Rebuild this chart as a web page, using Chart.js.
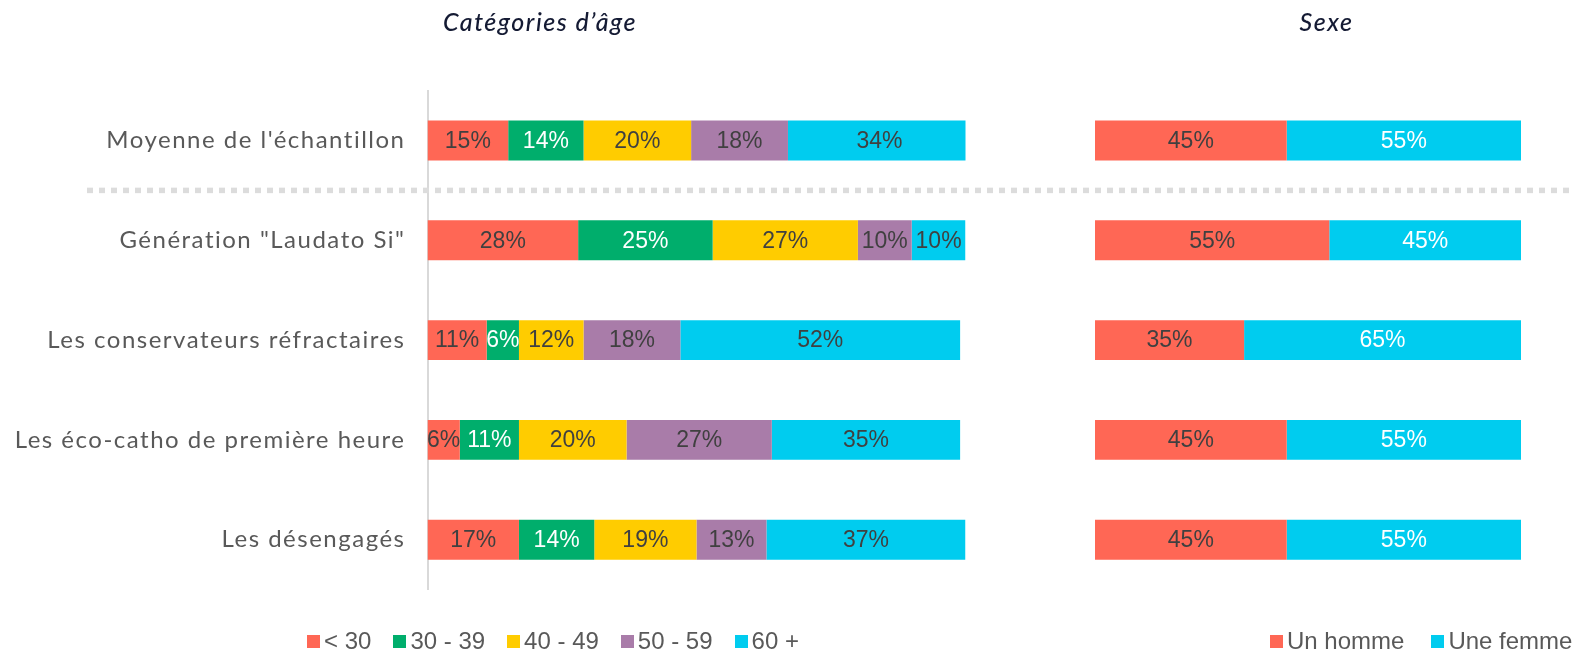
<!DOCTYPE html>
<html lang="fr">
<head>
<meta charset="utf-8">
<title>Profils : âge et sexe</title>
<script src="https://cdn.jsdelivr.net/npm/chart.js@4.4.1/dist/chart.umd.min.js"></script>
<style>
  html, body { margin: 0; padding: 0; background: #fff; }
  body { width: 1573px; height: 651px; position: relative; overflow: hidden; }
  .panel { position: absolute; top: 0; height: 651px; }
  #agePanel { left: 0; width: 1080px; }
  #sexPanel { left: 1080px; width: 493px; }
  .legend {
    position: absolute; top: 627px; display: flex; align-items: center;
    font-family: "Liberation Sans", Arial, sans-serif; font-size: 24px; color: #595959;
    white-space: nowrap;
  }
  .legend .item { display: flex; align-items: center; }
  .legend .box { width: 13px; height: 13px; margin-right: 4px; }
  #ageLegend { left: 307px; }
  #ageLegend .item { margin-right: 22px; }
  #sexLegend { left: 1270px; }
  #sexLegend .item { margin-right: 27px; }
</style>
</head>
<body>
<div class="panel" id="agePanel"><canvas id="ageChart"></canvas></div>
<div class="panel" id="sexPanel"><canvas id="sexChart"></canvas></div>
<div class="legend" id="ageLegend"></div>
<div class="legend" id="sexLegend"></div>
<script>
const segments = [
  "Moyenne de l'échantillon",
  'Génération "Laudato Si"',
  'Les conservateurs réfractaires',
  'Les éco-catho de première heure',
  'Les désengagés'
];

const ageGroups = ['< 30', '30 - 39', '40 - 49', '50 - 59', '60 +'];
const ageUnder30 = [15, 28, 11, 6, 17];
const age30to39 = [14, 25, 6, 11, 14];
const age40to49 = [20, 27, 12, 20, 19];
const age50to59 = [18, 10, 18, 27, 13];
const age60plus = [34, 10, 52, 35, 37];
const ageColors = ['#FF6755', '#00AE6C', '#FFCC00', '#A97CA9', '#00CCEF'];
const ageLabelColors = ['#404040', '#ffffff', '#404040', '#404040', '#404040'];

const sexGroups = ['Un homme', 'Une femme'];
const men = [45, 55, 35, 45, 45];
const women = [55, 45, 65, 55, 55];
const sexColors = ['#FF6755', '#00CCEF'];
const sexLabelColors = ['#404040', '#ffffff'];

const LABEL_FONT = '"Liberation Sans", Arial, sans-serif';
const TITLE_COLOR = '#141a33';

// wider tracking for titles and category names (scales + title are drawn before datasets)
const tracking = {
  id: 'tracking',
  beforeDraw(chart, args, opts) { chart.ctx.letterSpacing = opts.spacing; },
  beforeDatasetsDraw(chart) { chart.ctx.letterSpacing = '0px'; }
};

// value labels centred in each stacked segment
const barLabels = {
  id: 'barLabels',
  afterDatasetsDraw(chart, args, opts) {
    const { ctx } = chart;
    ctx.save();
    ctx.font = `23px ${LABEL_FONT}`;
    ctx.textAlign = 'center';
    ctx.textBaseline = 'middle';
    chart.data.datasets.forEach((ds, i) => {
      const meta = chart.getDatasetMeta(i);
      ctx.fillStyle = opts.colors[i];
      meta.data.forEach((bar, j) => {
        const { x, y, base } = bar.getProps(['x', 'y', 'base'], true);
        ctx.fillText(ds.data[j] + '%', (x + base) / 2, y + 1);
      });
    });
    ctx.restore();
  }
};

// dotted rule between the sample average and the segments
const separator = {
  id: 'separator',
  beforeDatasetsDraw(chart, args, opts) {
    const { ctx } = chart;
    const y = chart.scales.y;
    const py = (y.getPixelForValue(0) + y.getPixelForValue(1)) / 2;
    ctx.save();
    ctx.strokeStyle = '#dcdcdc';
    ctx.lineWidth = 5.5;
    ctx.setLineDash([6, 6]);
    ctx.lineDashOffset = opts.phase;
    ctx.beginPath();
    ctx.moveTo(opts.from, py);
    ctx.lineTo(chart.width, py);
    ctx.stroke();
    ctx.restore();
  }
};

function makeDatasets(labels, series, colors) {
  return labels.map((label, i) => ({
    label,
    data: series[i],
    backgroundColor: colors[i],
    borderWidth: 0,
    barPercentage: 0.4,
    categoryPercentage: 1.0
  }));
}

function titleOptions(text) {
  return {
    display: true,
    text,
    color: TITLE_COLOR,
    font: { family: 'Lato', size: 25, style: 'italic', weight: '500' },
    padding: { top: 8, bottom: 52.6 }
  };
}

// empty right-hand axis, only reserves room so the title sits centred on the panel
function spacerAxis(width) {
  return {
    axis: 'y',
    type: 'category',
    position: 'right',
    grid: { display: false },
    border: { display: false },
    ticks: { display: false },
    afterFit(scale) { scale.width = width; }
  };
}

Chart.defaults.animation = false;

new Chart(document.getElementById('ageChart'), {
  type: 'bar',
  data: {
    labels: segments,
    datasets: makeDatasets(ageGroups,
      [ageUnder30, age30to39, age40to49, age50to59, age60plus], ageColors)
  },
  plugins: [tracking, separator, barLabels],
  options: {
    indexAxis: 'y',
    responsive: true,
    maintainAspectRatio: false,
    layout: { padding: { left: 0, right: 0, top: 0, bottom: 61.4 } },
    plugins: {
      legend: { display: false },
      tooltip: { enabled: false },
      title: titleOptions('Catégories d’âge'),
      tracking: { spacing: '1.5px' },
      separator: { from: 87, phase: 0 },
      barLabels: { colors: ageLabelColors }
    },
    scales: {
      x: { stacked: true, min: 0, max: 100, display: false },
      y: {
        stacked: true,
        grid: { display: false, drawTicks: false },
        border: { display: true, color: '#d9d9d9', width: 2 },
        ticks: {
          padding: 22,
          color: '#595959',
          font: { family: 'Lato', size: 24 }
        },
        afterFit(scale) { scale.width = 427.5; }
      },
      spacer: spacerAxis(114.5)
    }
  }
});

new Chart(document.getElementById('sexChart'), {
  type: 'bar',
  data: {
    labels: segments,
    datasets: makeDatasets(sexGroups, [men, women], sexColors)
  },
  plugins: [tracking, separator, barLabels],
  options: {
    indexAxis: 'y',
    responsive: true,
    maintainAspectRatio: false,
    layout: { padding: { left: 15, right: 15, top: 0, bottom: 61.4 } },
    plugins: {
      legend: { display: false },
      tooltip: { enabled: false },
      title: titleOptions('Sexe'),
      tracking: { spacing: '1.5px' },
      separator: { from: 0, phase: 9 },
      barLabels: { colors: sexLabelColors }
    },
    scales: {
      x: { stacked: true, min: 0, max: 100, display: false },
      y: { stacked: true, display: false },
      spacer: spacerAxis(37)
    }
  }
});

function buildLegend(el, labels, colors) {
  labels.forEach((label, i) => {
    const item = document.createElement('div');
    item.className = 'item';
    const box = document.createElement('span');
    box.className = 'box';
    box.style.background = colors[i];
    const text = document.createElement('span');
    text.textContent = label;
    item.append(box, text);
    el.appendChild(item);
  });
}

buildLegend(document.getElementById('ageLegend'), ageGroups, ageColors);
buildLegend(document.getElementById('sexLegend'), sexGroups, sexColors);
</script>
</body>
</html>
